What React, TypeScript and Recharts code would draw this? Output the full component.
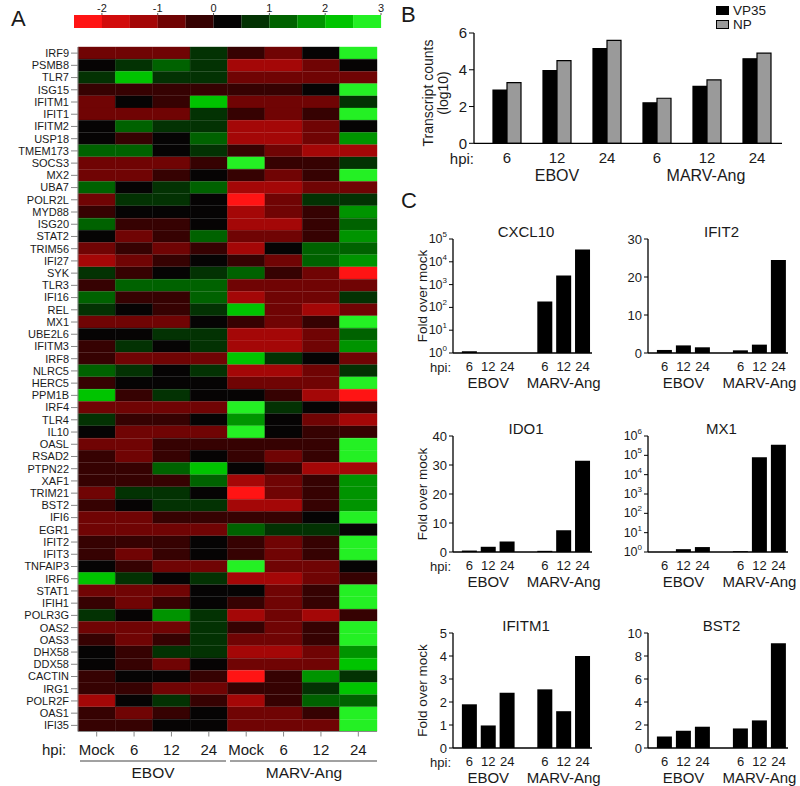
import React from "react";
import { BarChart, Bar, XAxis, YAxis, Cell, Legend } from "recharts";

const W = 800;
const H = 786;
const FONT = "'Liberation Sans', Arial, Helvetica, sans-serif";
const INK = "#1a1a1a";

// ---------- A: heatmap ----------
const GENES = [
  "IRF9", "PSMB8", "TLR7", "ISG15", "IFITM1", "IFIT1", "IFITM2", "USP18", "TMEM173", "SOCS3",
  "MX2", "UBA7", "POLR2L", "MYD88", "ISG20", "STAT2", "TRIM56", "IFI27", "SYK", "TLR3",
  "IFI16", "REL", "MX1", "UBE2L6", "IFITM3", "IRF8", "NLRC5", "HERC5", "PPM1B", "IRF4",
  "TLR4", "IL10", "OASL", "RSAD2", "PTPN22", "XAF1", "TRIM21", "BST2", "IFI6", "EGR1",
  "IFIT2", "IFIT3", "TNFAIP3", "IRF6", "STAT1", "IFIH1", "POLR3G", "OAS2", "OAS3", "DHX58",
  "DDX58", "CACTIN", "IRG1", "POLR2F", "OAS1", "IFI35",
];
const HEAT_COLUMNS = ["Mock", "6", "12", "24", "Mock", "6", "12", "24"];

const EBOV_MOCK = [
  -0.8, 0.2, 0.7, -0.3, -0.8, -0.8, 0.2, 0.2, 1.2, -0.8,
  -0.8, 1.2, -0.8, -0.3, 1.2, 0.2, -0.8, -1.3, 0.7, -0.3,
  1.2, 0.7, -0.8, 0.2, -0.3, -0.3, 1.2, -0.3, 2.2, -0.8,
  0.7, 0.2, -0.8, -0.3, -0.3, -0.3, -0.8, -0.3, -0.8, -0.8,
  -0.3, -0.3, 0.2, 2.2, -0.8, -0.3, 0.7, -0.8, -0.3, 0.2,
  0.2, -0.3, -0.3, -1.3, -0.3, -0.3,
];
const EBOV_6H = [
  -0.8, 0.7, 2.2, -0.3, 0.2, -0.8, 1.2, -0.3, 1.2, -0.8,
  -0.8, 0.2, 0.7, 0.2, -0.3, -0.8, -0.3, -0.8, -0.3, 1.2,
  -0.3, 0.2, -0.8, 0.2, 0.7, -0.8, 0.7, 0.2, -0.3, -0.8,
  -0.3, -0.8, -0.8, -0.8, -0.3, -0.3, 0.7, 0.2, -0.8, -0.8,
  -0.3, -0.8, -0.3, 0.7, -0.8, -0.8, 0.2, -0.8, -0.8, -0.3,
  -0.3, 0.2, -0.3, 0.2, -0.8, -0.3,
];
const EBOV_12H = [
  -0.8, 1.2, 0.7, -0.3, -0.3, -0.8, 0.7, 0.2, 0.2, -0.8,
  -0.3, 0.7, 0.7, 0.2, -0.3, -0.3, -0.8, -0.3, 0.2, 1.2,
  -0.3, -0.3, -0.8, 0.7, 0.2, -0.8, 0.2, 0.2, 0.7, -0.8,
  -0.3, -0.8, -0.3, -0.3, 1.2, -0.3, 0.7, 0.7, -0.3, -0.8,
  -0.3, -0.3, -0.8, 0.2, -0.8, -0.3, 1.7, -0.8, -0.3, 0.7,
  -0.8, 0.2, -0.8, 0.7, -0.3, 0.2,
];
const EBOV_24H = [
  0.7, 0.7, 0.7, -0.3, 2.2, 0.7, 0.7, 1.2, 0.7, -0.3,
  0.2, 1.2, 0.2, 0.2, 0.2, 1.2, -0.3, 0.2, 0.7, 1.2,
  1.2, 0.7, 0.2, 0.7, 0.7, -0.8, 0.7, 0.2, 0.2, -0.8,
  0.2, -0.8, -0.3, 0.2, 2.2, 1.2, 0.2, 0.7, -0.3, -0.8,
  0.2, 0.2, -0.8, 0.7, 0.2, 0.2, 0.7, 0.7, 0.7, 0.7,
  0.2, -0.3, -0.8, -0.3, 0.2, 0.2,
];
const MARV_MOCK = [
  -0.3, -1.3, -0.8, -0.3, -0.8, -0.3, -1.3, -1.3, -0.3, 2.7,
  -0.3, -1.3, -2.2, -1.3, -1.3, -0.8, -1.3, -0.3, 1.2, -0.8,
  -1.3, 2.2, -0.3, -1.3, -1.3, 2.2, -1.3, -0.8, 0.2, 2.7,
  1.7, 2.7, -0.3, -0.3, 0.2, -1.3, -2.2, -1.3, -0.3, 1.2,
  -0.3, -0.3, 2.7, -1.3, 0.2, -0.3, -1.3, -0.3, -0.8, -1.3,
  -0.8, -2.2, -0.3, -1.3, -0.8, -0.8,
];
const MARV_6H = [
  -0.8, -1.3, -0.8, -0.3, -0.8, -0.8, -1.3, -1.3, -0.8, -0.3,
  -0.8, -1.3, -0.8, -0.8, -1.3, -0.8, 0.2, -0.8, -0.3, -0.8,
  -0.8, -0.8, -0.8, -1.3, -1.3, 0.7, -1.3, -0.8, -0.3, 0.7,
  0.2, 0.2, -0.3, -0.8, -0.3, -0.8, -0.8, -1.3, -0.3, 0.7,
  -0.8, -0.8, -0.8, -1.3, -0.8, -0.8, -0.8, -0.8, -0.8, -1.3,
  -0.8, -0.3, -0.3, -0.3, -0.8, -0.8,
];
const MARV_12H = [
  0.2, -0.8, -0.8, 0.2, -0.8, -0.3, -0.8, -0.8, -1.3, -0.3,
  -0.3, -0.8, 0.7, -0.3, -0.3, -0.3, 1.2, 1.2, -0.8, -0.8,
  -0.8, -1.3, -0.3, -0.8, -0.8, 0.2, -0.8, -0.8, -1.3, 0.2,
  -0.8, -0.3, -0.3, -0.3, -1.3, -0.3, -0.3, -0.3, 0.2, 0.7,
  -0.3, -0.3, -0.8, -0.8, -0.3, -0.3, -1.3, -0.3, -0.3, -0.8,
  -0.8, 1.7, 0.7, 1.2, -0.3, -0.8,
];
const MARV_24H = [
  2.7, 0.2, -0.8, 2.7, 0.7, 2.7, 0.2, 1.7, -1.3, 0.7,
  2.7, -0.8, 0.7, 1.7, 1.2, 1.7, 1.2, 1.7, -2.2, -0.8,
  0.7, -0.8, 2.7, 1.2, 1.7, -0.8, 0.7, 2.7, -2.2, -0.3,
  -1.3, -0.3, 2.7, 2.7, -1.3, 1.7, 1.7, 1.7, 2.7, 0.2,
  2.7, 2.7, 0.2, -0.3, 2.7, 2.7, -0.3, 2.7, 2.7, 1.7,
  2.2, 0.7, 2.2, 1.2, 2.7, 2.7,
];
const HEAT_SERIES = [EBOV_MOCK, EBOV_6H, EBOV_12H, EBOV_24H, MARV_MOCK, MARV_6H, MARV_12H, MARV_24H];

// colour key, one step per 0.5
const SCALE_STEPS = [-2.25, -1.75, -1.25, -0.75, -0.25, 0.25, 0.75, 1.25, 1.75, 2.25, 2.75];
const SCALE_COLORS = [
  "#ff1414", "#d20c0c", "#a40707", "#700404", "#360202", "#060404",
  "#033203", "#006200", "#009400", "#00c400", "#24f024",
];
const SCALE_TICKS = [-2, -1, 0, 1, 2, 3];

// ---------- B: viral transcripts ----------
const B_HPI = ["6", "12", "24", "6", "12", "24"];
const VP35 = [2.9, 3.95, 5.15, 2.2, 3.1, 4.6];
const NP = [3.3, 4.5, 5.6, 2.45, 3.45, 4.9];

// ---------- C: fold over mock ----------
const C_HPI = ["6", "12", "24", "6", "12", "24"];
const CXCL10 = [1.2, 1, 1, 180, 2500, 35000];
const IFIT2 = [0.8, 2.0, 1.5, 0.7, 2.2, 24.5];
const IDO1 = [0.5, 1.8, 3.6, 0.4, 7.5, 31.5];
const MX1 = [1, 1.4, 1.8, 1.1, 80000, 350000];
const IFITM1 = [1.9, 0.98, 2.4, 2.55, 1.6, 4.0];
const BST2 = [1.0, 1.5, 1.85, 1.7, 2.4, 9.1];

const heatColor = (v: number) => {
  const i = Math.floor((v + 2.5) / 0.5);
  return SCALE_COLORS[Math.min(SCALE_COLORS.length - 1, Math.max(0, i))];
};

const heatRows = GENES.map((gene) => {
  const row: Record<string, any> = { gene };
  HEAT_SERIES.forEach((_, c) => (row[`c${c}`] = 1));
  return row;
});

const keyRows = SCALE_STEPS.map((mid) => ({ mid, span: 1 }));

const bRows = B_HPI.map((hpi, i) => ({ hpi, vp35: VP35[i], np: NP[i] }));

const withGap = (values: number[]) => [
  ...values.slice(0, 3).map((v, i) => ({ hpi: C_HPI[i], fold: v })),
  { hpi: "", fold: null },
  ...values.slice(3).map((v, i) => ({ hpi: C_HPI[i + 3], fold: v })),
];

const C_COLS = [
  { left: 453, right: 592 },
  { left: 648, right: 788 },
];
const C_ROWS = [
  { top: 239, bottom: 353 },
  { top: 436, bottom: 552 },
  { top: 633, bottom: 748 },
];
const C_PAD = 7;

const C_SPECS = [
  { title: "CXCL10", values: CXCL10, col: 0, row: 0, log: true, domain: [1, 1e5], ticks: [1, 10, 100, 1e3, 1e4, 1e5] },
  { title: "IFIT2", values: IFIT2, col: 1, row: 0, log: false, domain: [0, 30], ticks: [0, 10, 20, 30] },
  { title: "IDO1", values: IDO1, col: 0, row: 1, log: false, domain: [0, 40], ticks: [0, 10, 20, 30, 40] },
  { title: "MX1", values: MX1, col: 1, row: 1, log: true, domain: [1, 1e6], ticks: [1, 10, 100, 1e3, 1e4, 1e5, 1e6] },
  { title: "IFITM1", values: IFITM1, col: 0, row: 2, log: false, domain: [0, 5], ticks: [0, 1, 2, 3, 4, 5] },
  { title: "BST2", values: BST2, col: 1, row: 2, log: false, domain: [0, 10], ticks: [0, 2, 4, 6, 8, 10] },
];

const layer: React.CSSProperties = { position: "absolute", left: 0, top: 0 };

function LogTick(props: any) {
  const { x, y, payload } = props;
  const exp = Math.round(Math.log10(payload.value));
  return (
    <text x={x} y={y} textAnchor="end" dominantBaseline="central" fontSize={12.5} fill={INK}>
      10
      <tspan dy={-5} fontSize={8}>
        {exp}
      </tspan>
    </text>
  );
}

function Heatmap() {
  const top = 47;
  const bottom = 731.5;
  const left = 78;
  const right = 377;
  return (
    <div style={layer}>
      <BarChart
        width={W}
        height={H}
        data={heatRows}
        layout="vertical"
        barCategoryGap={0}
        margin={{ top, left: 0, right: W - right, bottom: H - bottom - 25 }}
      >
        <XAxis
          type="number"
          domain={[0, HEAT_COLUMNS.length]}
          ticks={HEAT_COLUMNS.map((_, i) => i + 0.5)}
          tickFormatter={(v: number) => HEAT_COLUMNS[Math.floor(v)]}
          height={25}
          tickSize={5}
          tickMargin={8}
          stroke="#888"
          tick={{ fontSize: 15, fill: INK }}
        />
        <YAxis
          type="category"
          dataKey="gene"
          width={left}
          interval={0}
          tickSize={7}
          tickMargin={2}
          stroke="#888"
          tick={{ fontSize: 11, fill: INK }}
        />
        {HEAT_SERIES.map((series, c) => (
          <Bar key={c} dataKey={`c${c}`} stackId="heat" isAnimationActive={false}>
            {series.map((v, r) => (
              <Cell key={r} fill={heatColor(v)} stroke={heatColor(v)} strokeWidth={0.4} />
            ))}
          </Bar>
        ))}
      </BarChart>
    </div>
  );
}

const KEY_LEFT = 74;
const KEY_RIGHT = 381;

// labels sit on the boundaries between colour steps
function KeyTick(props: any) {
  const { x, y, payload } = props;
  const edge = payload.value + 0.25;
  if (!SCALE_TICKS.includes(edge)) return <g />;
  const half = (KEY_RIGHT - KEY_LEFT) / SCALE_STEPS.length / 2;
  return (
    <g>
      <line x1={x + half} x2={x + half} y1={y + 1} y2={y + 3} stroke="#555" />
      <text x={x + half} y={y} textAnchor="middle" fontSize={11} fill={INK}>
        {edge}
      </text>
    </g>
  );
}

function ColorKey() {
  const bottom = 28;
  return (
    <div style={layer}>
      <BarChart
        width={W}
        height={H}
        data={keyRows}
        barCategoryGap={0}
        margin={{ top: 0, left: KEY_LEFT, right: W - KEY_RIGHT, bottom: H - bottom }}
      >
        <XAxis
          dataKey="mid"
          orientation="top"
          height={15}
          interval={0}
          tickLine={false}
          axisLine={false}
          tickSize={0}
          tickMargin={3}
          tick={(p: any) => <KeyTick {...p} />}
        />
        <YAxis hide type="number" domain={[0, 1]} />
        <Bar dataKey="span" isAnimationActive={false}>
          {SCALE_COLORS.map((c, i) => (
            <Cell key={i} fill={c} />
          ))}
        </Bar>
      </BarChart>
    </div>
  );
}

const B_SERIES = [
  { key: "vp35", name: "VP35", fill: "#000000" },
  { key: "np", name: "NP", fill: "#9a9a9a" },
];

function BLegend() {
  return (
    <div style={{ fontSize: 13.5, lineHeight: "13px", color: INK }}>
      {B_SERIES.map((s) => (
        <div key={s.key} style={{ display: "flex", alignItems: "center", height: 13.5 }}>
          <span
            style={{
              display: "inline-block",
              width: 11,
              height: 7,
              background: s.fill,
              border: "1px solid #000",
              marginRight: 4,
            }}
          />
          {s.name}
        </div>
      ))}
    </div>
  );
}

function Transcripts() {
  const top = 33;
  const bottom = 143.3;
  const left = 474;
  const right = 782;
  return (
    <div style={layer}>
      <BarChart
        width={W}
        height={H}
        data={bRows}
        barCategoryGap="22%"
        barGap={0}
        margin={{ top, left: left - 40, right: W - right, bottom: H - bottom - 20 }}
      >
        <XAxis
          dataKey="hpi"
          height={20}
          interval={0}
          tickLine={false}
          tickMargin={3}
          padding={{ left: 8, right: 0 }}
          axisLine={{ stroke: "#000", strokeWidth: 1.3 }}
          tick={{ fontSize: 15, fill: INK }}
        />
        <YAxis
          width={40}
          domain={[0, 6]}
          ticks={[0, 2, 4, 6]}
          interval={0}
          tickSize={5}
          tickMargin={2}
          axisLine={{ stroke: "#000", strokeWidth: 1.3 }}
          tickLine={{ stroke: "#000" }}
          tick={{ fontSize: 15, fill: INK }}
        />
        <Legend
          layout="vertical"
          align="center"
          verticalAlign="middle"
          content={() => <BLegend />}
          wrapperStyle={{ left: 716, top: 4, width: 70 }}
        />
        {B_SERIES.map((s) => (
          <Bar
            key={s.key}
            dataKey={s.key}
            name={s.name}
            fill={s.fill}
            stroke="#000"
            strokeWidth={1.2}
            isAnimationActive={false}
          />
        ))}
      </BarChart>
    </div>
  );
}

function FoldChart({ spec }: { spec: (typeof C_SPECS)[number] }) {
  const { left, right } = C_COLS[spec.col];
  const { top, bottom } = C_ROWS[spec.row];
  return (
    <div style={layer}>
      <BarChart
        width={W}
        height={H}
        data={withGap(spec.values)}
        barCategoryGap="10%"
        margin={{ top, left: left - 40, right: W - right, bottom: H - bottom - 20 }}
      >
        <XAxis
          dataKey="hpi"
          height={20}
          interval={0}
          tickLine={false}
          tickMargin={3}
          padding={{ left: C_PAD, right: 0 }}
          axisLine={{ stroke: "#000", strokeWidth: 1.3 }}
          tick={{ fontSize: 13, fill: INK }}
        />
        {spec.log ? (
          <YAxis
            width={40}
            type="number"
            scale="log"
            domain={spec.domain}
            ticks={spec.ticks}
            interval={0}
            allowDataOverflow
            tickSize={4}
            tickMargin={2}
            axisLine={{ stroke: "#000", strokeWidth: 1.3 }}
            tickLine={{ stroke: "#000" }}
            tick={(p: any) => <LogTick {...p} />}
          />
        ) : (
          <YAxis
            width={40}
            type="number"
            domain={spec.domain}
            ticks={spec.ticks}
            interval={0}
            tickSize={4}
            tickMargin={2}
            axisLine={{ stroke: "#000", strokeWidth: 1.3 }}
            tickLine={{ stroke: "#000" }}
            tick={{ fontSize: 13, fill: INK }}
          />
        )}
        <Bar dataKey="fold" fill="#000" isAnimationActive={false} />
      </BarChart>
    </div>
  );
}

function Overlay() {
  const t = (x: number, y: number, s: string, size: number, anchor = "middle") => (
    <text x={x} y={y} fontSize={size} textAnchor={anchor} fill={INK}>
      {s}
    </text>
  );
  return (
    <svg width={W} height={H} style={{ ...layer, pointerEvents: "none" }}>
      {t(11, 26, "A", 22, "start")}
      {t(401, 22, "B", 22, "start")}
      {t(401, 208, "C", 22, "start")}

      {/* A: column groups */}
      {t(42, 755, "hpi:", 15, "start")}
      <line x1={80} x2={226} y1={761} y2={761} stroke="#444" strokeWidth={1} />
      <line x1={230} x2={377} y1={761} y2={761} stroke="#444" strokeWidth={1} />
      {t(153, 778, "EBOV", 15.5)}
      {t(304, 778, "MARV-Ang", 15.5)}

      {/* B */}
      {t(474, 164, "hpi:", 15, "end")}
      {t(557, 181, "EBOV", 16)}
      {t(706, 181, "MARV-Ang", 16)}
      <text transform="translate(428,93) rotate(-90)" textAnchor="middle" dominantBaseline="central" fontSize={14} fill={INK}>
        Transcript counts
      </text>
      <text transform="translate(443,93) rotate(-90)" textAnchor="middle" dominantBaseline="central" fontSize={14} fill={INK}>
        (log10)
      </text>

      {/* C */}
      {C_SPECS.map((spec) => {
        const { left, right } = C_COLS[spec.col];
        const { top, bottom } = C_ROWS[spec.row];
        const slot = (right - left - C_PAD) / 7;
        const x0 = left + C_PAD;
        return (
          <g key={spec.title}>
            {t((x0 + right) / 2, top - 2, spec.title, 15)}
            {t(x0 + slot * 1.5, bottom + 35, "EBOV", 15)}
            {t(x0 + slot * 5.5, bottom + 35, "MARV-Ang", 15)}
            {spec.col === 0 && t(left - 2, bottom + 19, "hpi:", 13, "end")}
            {spec.col === 0 && (
              <text
                transform={`translate(${left - 31},${(top + bottom) / 2}) rotate(-90)`}
                textAnchor="middle"
                dominantBaseline="central"
                fontSize={13.5}
                fill={INK}
              >
                Fold over mock
              </text>
            )}
          </g>
        );
      })}
    </svg>
  );
}

export default function App() {
  return (
    <div
      style={{
        position: "absolute",
        left: 0,
        top: 0,
        width: W,
        height: H,
        background: "#fff",
        fontFamily: FONT,
        overflow: "hidden",
      }}
    >
      <ColorKey />
      <Heatmap />
      <Transcripts />
      {C_SPECS.map((spec) => (
        <FoldChart key={spec.title} spec={spec} />
      ))}
      <Overlay />
    </div>
  );
}
